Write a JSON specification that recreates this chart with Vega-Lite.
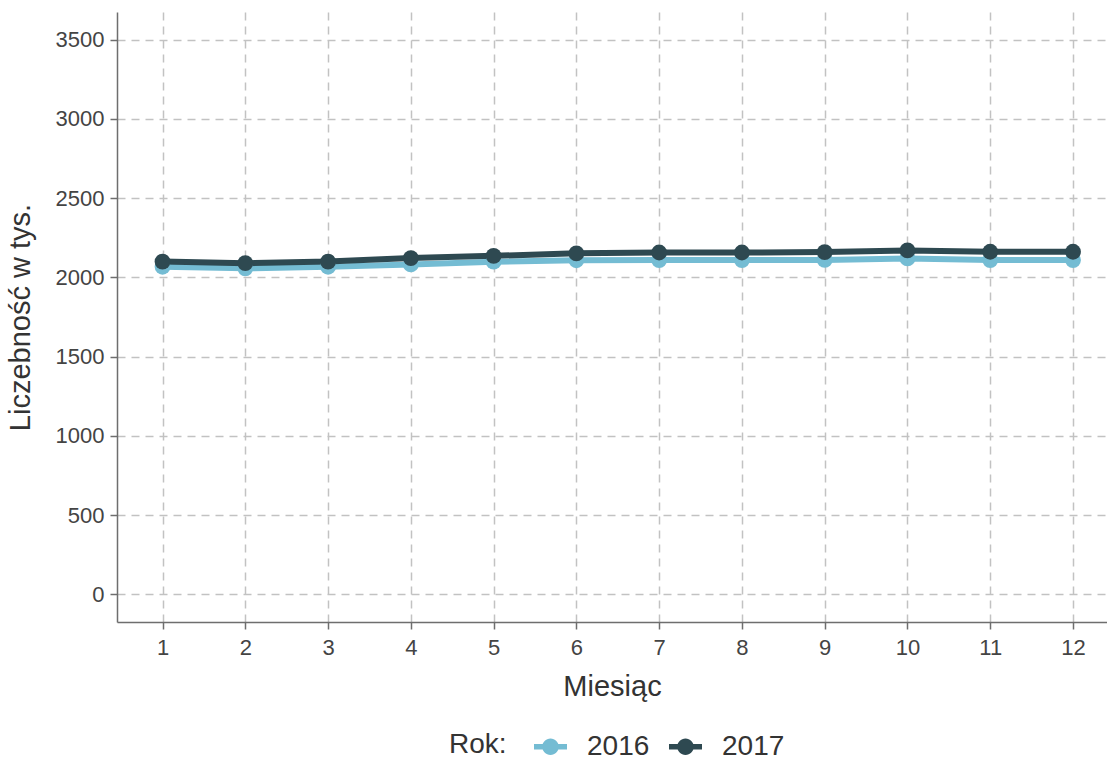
{
  "$schema": "https://vega.github.io/schema/vega-lite/v6.json",
  "autosize": {"type": "none"},
  "padding": {"left": 117, "top": 12, "right": 0, "bottom": 140},
  "width": 990,
  "height": 610,
  "background": "white",
  "config": {
    "view": {"stroke": null},
    "font": "Liberation Sans"
  },
  "data": {
    "values": [
      {"Miesiac": 1, "Rok": "2016", "Liczebnosc": 2067},
      {"Miesiac": 2, "Rok": "2016", "Liczebnosc": 2057},
      {"Miesiac": 3, "Rok": "2016", "Liczebnosc": 2067},
      {"Miesiac": 4, "Rok": "2016", "Liczebnosc": 2082},
      {"Miesiac": 5, "Rok": "2016", "Liczebnosc": 2099},
      {"Miesiac": 6, "Rok": "2016", "Liczebnosc": 2108},
      {"Miesiac": 7, "Rok": "2016", "Liczebnosc": 2109},
      {"Miesiac": 8, "Rok": "2016", "Liczebnosc": 2109},
      {"Miesiac": 9, "Rok": "2016", "Liczebnosc": 2110},
      {"Miesiac": 10, "Rok": "2016", "Liczebnosc": 2120},
      {"Miesiac": 11, "Rok": "2016", "Liczebnosc": 2109},
      {"Miesiac": 12, "Rok": "2016", "Liczebnosc": 2109},
      {"Miesiac": 1, "Rok": "2017", "Liczebnosc": 2100},
      {"Miesiac": 2, "Rok": "2017", "Liczebnosc": 2090},
      {"Miesiac": 3, "Rok": "2017", "Liczebnosc": 2100},
      {"Miesiac": 4, "Rok": "2017", "Liczebnosc": 2122},
      {"Miesiac": 5, "Rok": "2017", "Liczebnosc": 2136},
      {"Miesiac": 6, "Rok": "2017", "Liczebnosc": 2152},
      {"Miesiac": 7, "Rok": "2017", "Liczebnosc": 2157},
      {"Miesiac": 8, "Rok": "2017", "Liczebnosc": 2157},
      {"Miesiac": 9, "Rok": "2017", "Liczebnosc": 2160},
      {"Miesiac": 10, "Rok": "2017", "Liczebnosc": 2170},
      {"Miesiac": 11, "Rok": "2017", "Liczebnosc": 2162},
      {"Miesiac": 12, "Rok": "2017", "Liczebnosc": 2162}
    ]
  },
  "encoding": {
    "x": {
      "field": "Miesiac",
      "type": "quantitative",
      "title": "Miesiąc",
      "scale": {"domain": [0.45, 12.4106], "nice": false, "zero": false},
      "axis": {
        "values": [1, 2, 3, 4, 5, 6, 7, 8, 9, 10, 11, 12],
        "format": "d",
        "grid": true,
        "gridColor": "#c2c2c2",
        "gridDash": [8, 6],
        "gridWidth": 1.5,
        "domainColor": "#6e6e6e",
        "domainWidth": 1.5,
        "tickColor": "#6e6e6e",
        "tickWidth": 1.5,
        "tickSize": 7,
        "labelFontSize": 22,
        "labelColor": "#444444",
        "labelPadding": 8,
        "titleFontSize": 29,
        "titleFontWeight": "normal",
        "titleColor": "#333333",
        "titlePadding": 14
      }
    },
    "y": {
      "field": "Liczebnosc",
      "type": "quantitative",
      "title": "Liczebność w tys.",
      "scale": {"domain": [-175, 3675], "nice": false, "zero": false},
      "axis": {
        "values": [0, 500, 1000, 1500, 2000, 2500, 3000, 3500],
        "format": "d",
        "grid": true,
        "gridColor": "#c2c2c2",
        "gridDash": [8, 6],
        "gridWidth": 1.5,
        "domainColor": "#6e6e6e",
        "domainWidth": 1.5,
        "tickColor": "#6e6e6e",
        "tickWidth": 1.5,
        "tickSize": 7,
        "labelFontSize": 22,
        "labelColor": "#444444",
        "labelPadding": 6,
        "titleFontSize": 29,
        "titleFontWeight": "normal",
        "titleColor": "#333333",
        "titlePadding": 20
      }
    },
    "color": {
      "field": "Rok",
      "type": "nominal",
      "scale": {"domain": ["2016", "2017"], "range": ["#74bcd3", "#2e4951"]},
      "legend": {
        "title": "Rok:",
        "orient": "none",
        "direction": "horizontal",
        "legendX": 332,
        "legendY": 718,
        "titleOrient": "left",
        "titleFontSize": 28,
        "titleFontWeight": "normal",
        "titleColor": "#333333",
        "titlePadding": 27,
        "titleBaseline": "middle",
        "labelFontSize": 28,
        "labelColor": "#333333",
        "labelOffset": 20,
        "columnPadding": 19,
        "padding": 0,
        "symbolType": "M-1,-0.17H1V0.17H-1Z M0.5,0A0.5,0.5 0 1,1 -0.5,0A0.5,0.5 0 1,1 0.5,0Z",
        "symbolSize": 1089,
        "symbolStrokeWidth": 0,
        "symbolOpacity": 1
      }
    },
    "order": {"field": "Rok", "type": "nominal"}
  },
  "layer": [
    {"mark": {"type": "line", "strokeWidth": 6}},
    {"mark": {"type": "point", "filled": true, "size": 250, "opacity": 1}}
  ]
}
